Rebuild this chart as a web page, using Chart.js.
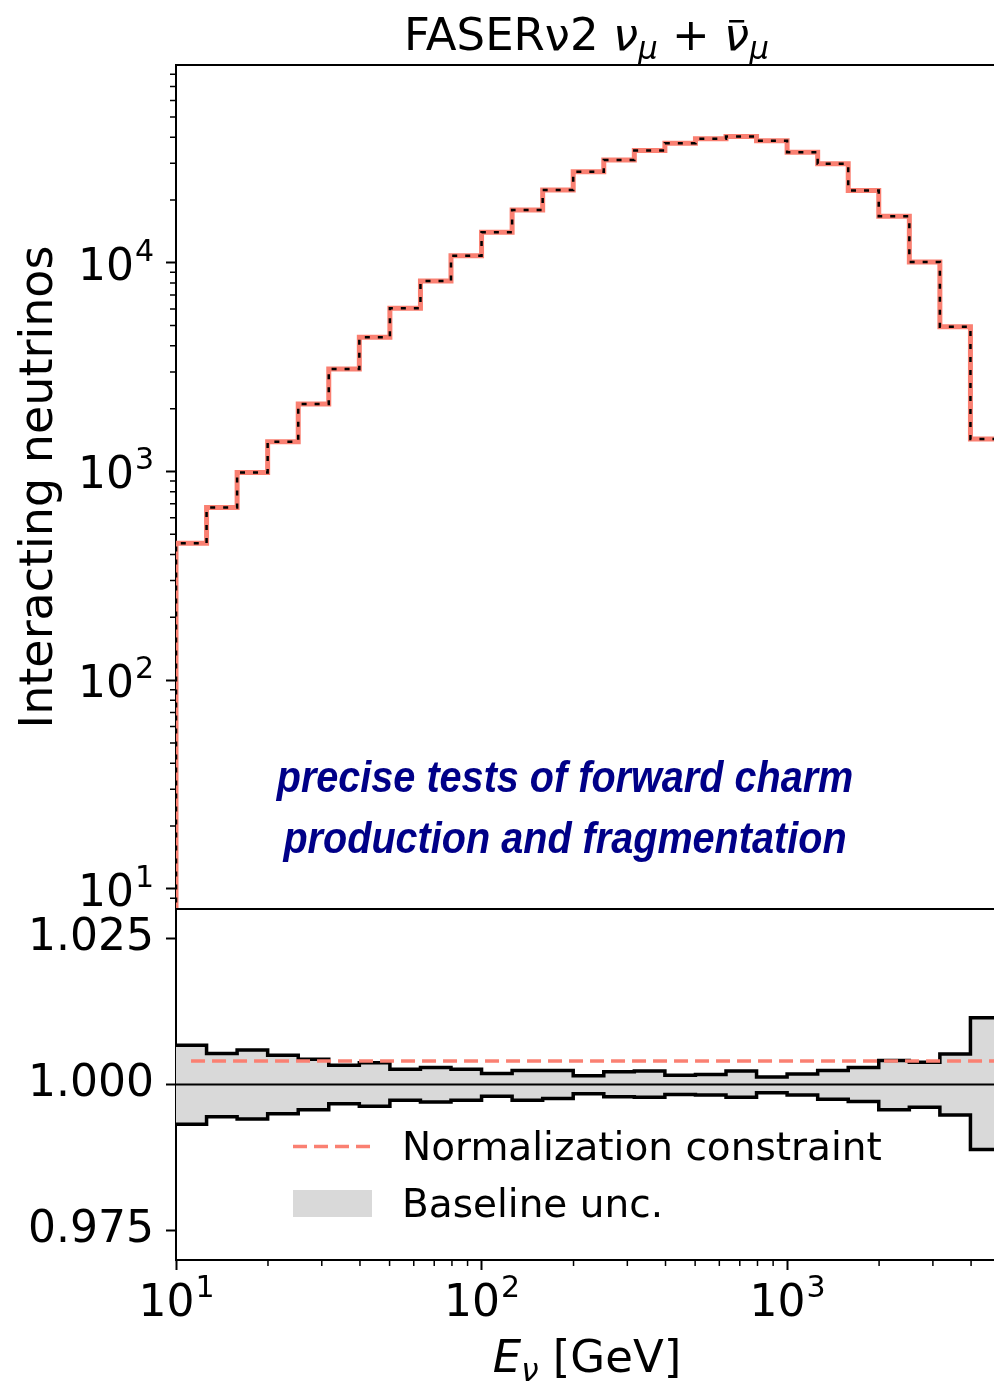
<!DOCTYPE html>
<html>
<head>
<meta charset="utf-8">
<script src="https://cdn.jsdelivr.net/npm/chart.js@4.4.1/dist/chart.umd.min.js"></script>
<style>
  html, body { margin: 0; padding: 0; background: #fff; overflow: hidden; }
  #wrap { position: relative; width: 994px; height: 1382px; overflow: hidden; }
  canvas { position: absolute; left: 0; }
  #top { top: 0; }
  #bottom { top: 900px; }
</style>
</head>
<body>
<div id="wrap">
  <canvas id="top" width="1001" height="909"></canvas>
  <canvas id="bottom" width="1001" height="482"></canvas>
</div>
<script>
// bin edges in GeV (10 bins per decade)
const binEdges = [10, 12.59, 15.85, 19.95, 25.12, 31.62, 39.81, 50.12, 63.10, 79.43,
  100, 125.9, 158.5, 199.5, 251.2, 316.2, 398.1, 501.2, 631.0, 794.3,
  1000, 1259, 1585, 1995, 2512, 3162, 3981, 5012];

// interacting neutrinos per bin
const baseline = [453, 671, 989, 1387, 2104, 3097, 4396, 6053, 8185, 10820,
  14000, 17900, 22300, 27300, 31100, 34500, 37400, 39300, 40300, 38500,
  33900, 29800, 22200, 16700, 10100, 4940, 1429];
const constrained = [453, 671, 989, 1387, 2104, 3097, 4396, 6053, 8185, 10820,
  14000, 17900, 22300, 27300, 31100, 34500, 37400, 39300, 40300, 38500,
  33900, 29800, 22200, 16700, 10100, 4940, 1429];

// ratio panel: baseline uncertainty band
const uncUp = [1.0067, 1.0053, 1.0059, 1.0050, 1.0043, 1.0033, 1.0037, 1.0026, 1.0029, 1.0026,
  1.0019, 1.0024, 1.0024, 1.0015, 1.0022, 1.0023, 1.0016, 1.0017, 1.0023, 1.0013,
  1.0018, 1.0024, 1.0029, 1.0041, 1.0038, 1.0052, 1.0114];
const uncDown = [0.9932, 0.9945, 0.9941, 0.9950, 0.9957, 0.9967, 0.9963, 0.9973, 0.9970, 0.9973,
  0.9980, 0.9973, 0.9976, 0.9984, 0.9979, 0.9978, 0.9983, 0.9982, 0.9978, 0.9986,
  0.9982, 0.9975, 0.9971, 0.9957, 0.9961, 0.9948, 0.9889];
const normX = [11.2, 5012];
const normY = [1.004, 1.004];
const unityX = [10, 5012];
const unityY = [1, 1];

// tick labels as [base, exponent]
const xTickValues = [10, 100, 1000];
const xTickLabels = [['10', '1'], ['10', '2'], ['10', '3']];
const yTickValues = [10, 100, 1000, 10000];
const yTickLabels = [['10', '1'], ['10', '2'], ['10', '3'], ['10', '4']];
const ratioTickValues = [0.975, 1.0, 1.025];
const ratioTickLabels = ['0.975', '1.000', '1.025'];
const legendLabels = ['Normalization constraint', 'Baseline unc.'];
const noteLines = ['precise tests of forward charm', 'production and fragmentation'];

const SALMON = '#fa8072';
const FONT = 'DejaVu Sans';
const BASE_FONT = '44px "' + FONT + '"';
const EXP_FONT = '30px "' + FONT + '"';

function steps(vals, start) {
  const pts = [];
  if (start !== undefined) pts.push({x: binEdges[0], y: start});
  vals.forEach((v, i) => pts.push({x: binEdges[i], y: v}));
  pts.push({x: binEdges[vals.length], y: vals[vals.length - 1]});
  return pts;
}

function pairs(xs, ys) {
  return xs.map((x, i) => ({x: x, y: ys[i]}));
}

const minorVals = [];
for (let n = 0; n <= 4; n++) {
  for (let m = 2; m <= 9; m++) minorVals.push(m * Math.pow(10, n));
}

function minorTicks(ctx, scale, horizontal) {
  ctx.save();
  ctx.strokeStyle = '#000';
  ctx.lineWidth = 1.5;
  ctx.beginPath();
  minorVals.forEach(v => {
    if (v <= scale.min || v >= scale.max) return;
    const p = scale.getPixelForValue(v);
    if (horizontal) {
      ctx.moveTo(p, scale.top);
      ctx.lineTo(p, scale.top + 6);
    } else {
      ctx.moveTo(scale.right - 6, p);
      ctx.lineTo(scale.right, p);
    }
  });
  ctx.stroke();
  ctx.restore();
}

// "10" with raised exponent; anchor = 'right' (y axis) or 'center' (x axis)
function powerLabel(ctx, lab, x, base, anchor) {
  ctx.font = BASE_FONT;
  const wb = ctx.measureText(lab[0]).width;
  ctx.font = EXP_FONT;
  const we = ctx.measureText(lab[1]).width;
  const x0 = anchor === 'right' ? x - wb - we : x - (wb + we) / 2;
  ctx.font = BASE_FONT;
  ctx.fillText(lab[0], x0, base);
  ctx.font = EXP_FONT;
  ctx.fillText(lab[1], x0 + wb + 1, base - 19);
}

// draw text pieces (for sub/superscripts) centred on cx
function richText(ctx, parts, cx, base) {
  let total = 0;
  parts.forEach(p => {
    ctx.font = p.font;
    p.w = ctx.measureText(p.t).width;
    total += p.w;
  });
  let x = cx - total / 2;
  parts.forEach(p => {
    ctx.font = p.font;
    ctx.fillText(p.t, x, base + (p.dy || 0));
    if (p.bar) {
      ctx.fillRect(x + p.w * 0.2, base - 30, p.w * 0.6, 2.5);
    }
    x += p.w;
  });
}

function frameLine(ctx, area) {
  ctx.save();
  ctx.strokeStyle = '#000';
  ctx.lineWidth = 2;
  ctx.beginPath();
  ctx.moveTo(area.left, area.top);
  ctx.lineTo(area.right, area.top);
  ctx.stroke();
  ctx.restore();
}

const topDecor = {
  id: 'topDecor',
  afterDraw(chart) {
    const ctx = chart.ctx;
    const area = chart.chartArea;
    const ys = chart.scales.y;
    frameLine(ctx, area);
    minorTicks(ctx, ys, false);

    ctx.save();
    ctx.fillStyle = '#000';
    ctx.textBaseline = 'alphabetic';
    yTickValues.forEach((v, i) => {
      powerLabel(ctx, yTickLabels[i], 153, ys.getPixelForValue(v) + 17, 'right');
    });

    const up = '45px "' + FONT + '"';
    const it = 'italic 45px "' + FONT + '"';
    const sub = 'italic 31px "' + FONT + '"';
    richText(ctx, [
      {t: 'FASERν2 ', font: up},
      {t: 'ν', font: it},
      {t: 'μ', font: sub, dy: 9},
      {t: ' + ', font: up},
      {t: 'ν', font: it, bar: true},
      {t: 'μ', font: sub, dy: 9}
    ], (area.left + area.right) / 2 - 2, 50);

    // y axis title
    ctx.translate(52, (area.top + area.bottom) / 2);
    ctx.rotate(-Math.PI / 2);
    ctx.textAlign = 'center';
    ctx.font = '46px "' + FONT + '"';
    ctx.fillText('Interacting neutrinos', 0, 0);
    ctx.restore();

    // annotation
    ctx.save();
    ctx.fillStyle = '#000088';
    ctx.textAlign = 'center';
    ctx.font = 'italic bold 44px "Liberation Sans"';
    noteLines.forEach((line, i) => {
      ctx.save();
      ctx.translate(565, 792 + i * 61);
      ctx.scale(0.9, 1);
      ctx.fillText(line, 0, 0);
      ctx.restore();
    });
    ctx.restore();
  }
};

const bottomDecor = {
  id: 'bottomDecor',
  afterDraw(chart) {
    const ctx = chart.ctx;
    const area = chart.chartArea;
    const xs = chart.scales.x;
    frameLine(ctx, area);
    minorTicks(ctx, xs, true);

    ctx.save();
    ctx.fillStyle = '#000';
    ctx.textBaseline = 'alphabetic';
    xTickValues.forEach((v, i) => {
      powerLabel(ctx, xTickLabels[i], xs.getPixelForValue(v), area.bottom + 56, 'center');
    });

    // legend
    ctx.strokeStyle = SALMON;
    ctx.lineWidth = 3.5;
    ctx.setLineDash([14, 7]);
    ctx.beginPath();
    ctx.moveTo(293, 246.5);
    ctx.lineTo(372, 246.5);
    ctx.stroke();
    ctx.setLineDash([]);
    ctx.fillStyle = '#d9d9d9';
    ctx.fillRect(293, 290, 79, 27);
    ctx.fillStyle = '#000';
    ctx.font = '39px "' + FONT + '"';
    ctx.fillText(legendLabels[0], 402, 260);
    ctx.fillText(legendLabels[1], 402, 316.5);

    // x axis title
    richText(ctx, [
      {t: 'E', font: 'italic 45px "' + FONT + '"'},
      {t: 'ν', font: 'italic 31px "' + FONT + '"', dy: 9},
      {t: ' [GeV]', font: '45px "' + FONT + '"'}
    ], 587, 472);
    ctx.restore();
  }
};

const tickFont = {family: FONT, size: 44};
const tickGrid = {drawOnChartArea: false, tickLength: 10, tickWidth: 2, tickColor: '#000'};

function yAxisFit(s) {
  s.width = 176;
  s.paddingTop = 0;
  s.paddingBottom = 0;
}

const topChart = new Chart(document.getElementById('top'), {
  type: 'line',
  data: {
    datasets: [
      {
        label: 'constrained',
        data: steps(constrained, 1),
        borderColor: '#000',
        borderWidth: 2.5,
        borderDash: [5, 8],
        stepped: 'before',
        pointRadius: 0,
        order: 0
      },
      {
        label: 'baseline',
        data: steps(baseline, 1),
        borderColor: SALMON,
        borderWidth: 5,
        stepped: 'before',
        pointRadius: 0,
        order: 1
      }
    ]
  },
  options: {
    responsive: false,
    animation: false,
    layout: {padding: {top: 65, left: 0, right: 0, bottom: 0}},
    plugins: {legend: {display: false}, tooltip: {enabled: false}},
    scales: {
      x: {type: 'logarithmic', min: 10, max: 5012, display: false},
      y: {
        type: 'logarithmic',
        min: 8,
        max: 88700,
        z: 1,
        border: {color: '#000', width: 2},
        grid: tickGrid,
        ticks: {display: false},
        afterBuildTicks: s => { s.ticks = yTickValues.map(v => ({value: v})); },
        afterFit: yAxisFit
      }
    }
  },
  plugins: [topDecor]
});

const bottomChart = new Chart(document.getElementById('bottom'), {
  type: 'line',
  data: {
    datasets: [
      {
        label: 'Normalization constraint',
        data: pairs(normX, normY),
        borderColor: SALMON,
        borderWidth: 3.5,
        borderDash: [14, 7],
        pointRadius: 0,
        order: 0
      },
      {
        label: 'unity',
        data: pairs(unityX, unityY),
        borderColor: '#000',
        borderWidth: 2,
        pointRadius: 0,
        order: 1
      },
      {
        label: 'Baseline unc.',
        data: steps(uncUp),
        borderColor: '#000',
        borderWidth: 3.5,
        backgroundColor: '#d9d9d9',
        fill: '+1',
        stepped: 'before',
        pointRadius: 0,
        order: 2
      },
      {
        label: 'lower',
        data: steps(uncDown),
        borderColor: '#000',
        borderWidth: 3.5,
        stepped: 'before',
        pointRadius: 0,
        order: 3
      }
    ]
  },
  options: {
    responsive: false,
    animation: false,
    layout: {padding: {top: 9, left: 0, right: 0, bottom: 0}},
    plugins: {
      legend: {display: false},
      tooltip: {enabled: false},
      filler: {drawTime: 'beforeDatasetsDraw'}
    },
    scales: {
      x: {
        type: 'logarithmic',
        min: 10,
        max: 5012,
        z: 1,
        border: {color: '#000', width: 2},
        grid: tickGrid,
        ticks: {display: false},
        afterBuildTicks: s => { s.ticks = xTickValues.map(v => ({value: v})); },
        afterFit: s => { s.height = 122; s.paddingLeft = 0; s.paddingRight = 0; }
      },
      y: {
        min: 0.97,
        max: 1.03,
        z: 1,
        border: {color: '#000', width: 2},
        grid: tickGrid,
        ticks: {
          font: tickFont,
          color: '#000',
          padding: 12,
          callback: v => ratioTickLabels[ratioTickValues.indexOf(v)]
        },
        afterBuildTicks: s => { s.ticks = ratioTickValues.map(v => ({value: v})); },
        afterFit: yAxisFit
      }
    }
  },
  plugins: [bottomDecor]
});
</script>
</body>
</html>
